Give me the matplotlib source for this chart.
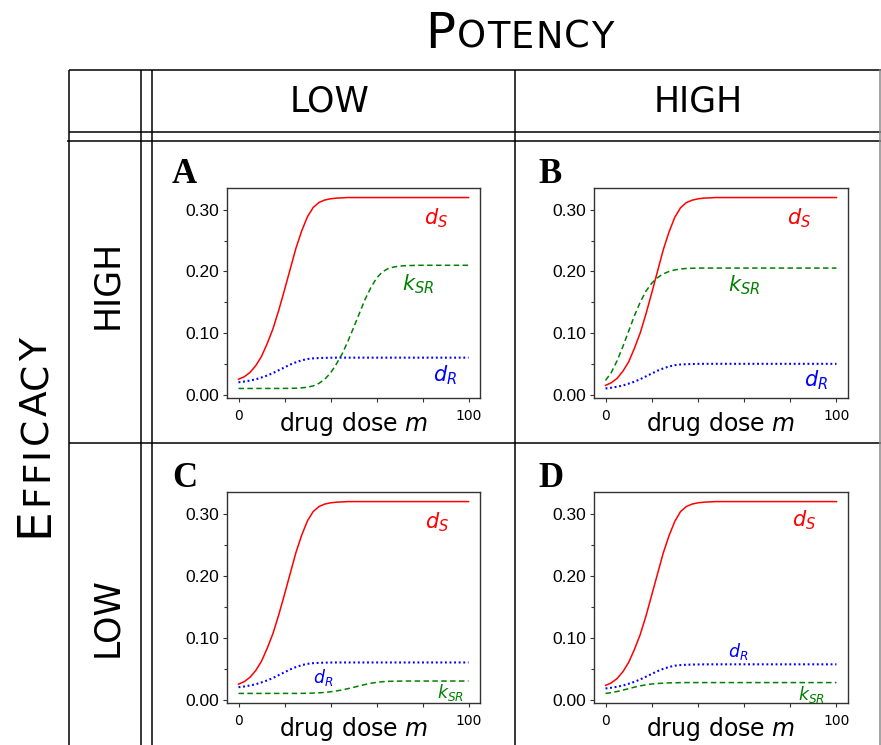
import numpy as np
import matplotlib
matplotlib.use("Agg")
import matplotlib.pyplot as plt
from matplotlib.ticker import FixedLocator

# ---------------------------------------------------------------- data
# drug dose grid (0..100 in steps of 2.5)
dose = np.linspace(0, 100, 41)

# death rate of susceptible cells d_S
dS_A = [0.025, 0.029, 0.036, 0.047, 0.062, 0.083, 0.107, 0.137, 0.170, 0.204,
        0.238, 0.266, 0.289, 0.304, 0.312, 0.316, 0.318, 0.319, 0.3195, 0.320,
        0.320, 0.320, 0.320, 0.320, 0.320, 0.320, 0.320, 0.320, 0.320, 0.320,
        0.320, 0.320, 0.320, 0.320, 0.320, 0.320, 0.320, 0.320, 0.320, 0.320, 0.320]
dS_B = [0.015, 0.0193, 0.0263, 0.0379, 0.0531, 0.0751, 0.100, 0.1309, 0.165, 0.2001,
        0.2352, 0.2642, 0.288, 0.3035, 0.3118, 0.3157, 0.3179, 0.3191, 0.3194, 0.320,
        0.320, 0.320, 0.320, 0.320, 0.320, 0.320, 0.320, 0.320, 0.320, 0.320,
        0.320, 0.320, 0.320, 0.320, 0.320, 0.320, 0.320, 0.320, 0.320, 0.320, 0.320]
dS_C = [0.025, 0.029, 0.036, 0.047, 0.062, 0.083, 0.107, 0.137, 0.170, 0.204,
        0.238, 0.266, 0.289, 0.304, 0.312, 0.316, 0.318, 0.319, 0.3195, 0.320,
        0.320, 0.320, 0.320, 0.320, 0.320, 0.320, 0.320, 0.320, 0.320, 0.320,
        0.320, 0.320, 0.320, 0.320, 0.320, 0.320, 0.320, 0.320, 0.320, 0.320, 0.320]
dS_D = [0.023, 0.027, 0.034, 0.045, 0.060, 0.081, 0.105, 0.135, 0.169, 0.203,
        0.237, 0.265, 0.288, 0.304, 0.312, 0.316, 0.318, 0.319, 0.3195, 0.320,
        0.320, 0.320, 0.320, 0.320, 0.320, 0.320, 0.320, 0.320, 0.320, 0.320,
        0.320, 0.320, 0.320, 0.320, 0.320, 0.320, 0.320, 0.320, 0.320, 0.320, 0.320]

# switching rate S -> R, k_SR
kSR_A = [0.010, 0.010, 0.010, 0.010, 0.010, 0.010, 0.010, 0.010, 0.0101, 0.0102,
         0.0104, 0.0110, 0.0120, 0.0142, 0.0183, 0.025, 0.035, 0.0494, 0.0656, 0.086,
         0.1084, 0.1314, 0.1544, 0.1734, 0.189, 0.1992, 0.2046, 0.2072, 0.2086, 0.2094,
         0.2096, 0.210, 0.210, 0.210, 0.210, 0.210, 0.210, 0.210, 0.210, 0.210, 0.210]
kSR_B = [0.023, 0.036, 0.055, 0.078, 0.103, 0.128, 0.150, 0.168, 0.181, 0.190,
         0.196, 0.200, 0.2025, 0.204, 0.2048, 0.2052, 0.2054, 0.2055, 0.2055, 0.2055,
         0.2055, 0.2055, 0.2055, 0.2055, 0.2055, 0.2055, 0.2055, 0.2055, 0.2055, 0.2055,
         0.2055, 0.2055, 0.2055, 0.2055, 0.2055, 0.2055, 0.2055, 0.2055, 0.2055, 0.2055, 0.2055]
kSR_C = [0.010, 0.010, 0.010, 0.010, 0.010, 0.010, 0.010, 0.010, 0.010, 0.010,
         0.010, 0.0101, 0.0102, 0.0105, 0.0109, 0.0116, 0.0126, 0.0139, 0.0156, 0.0176,
         0.0198, 0.0221, 0.0244, 0.0263, 0.0279, 0.0289, 0.0295, 0.0297, 0.0299, 0.030,
         0.030, 0.030, 0.030, 0.030, 0.030, 0.030, 0.030, 0.030, 0.030, 0.030, 0.030]
kSR_D = [0.010, 0.0112, 0.0131, 0.0153, 0.0177, 0.0201, 0.0222, 0.0239, 0.0252, 0.0260,
         0.0266, 0.0270, 0.0272, 0.0274, 0.0275, 0.0275, 0.0275, 0.0275, 0.0275, 0.0275,
         0.0275, 0.0275, 0.0275, 0.0275, 0.0275, 0.0275, 0.0275, 0.0275, 0.0275, 0.0275,
         0.0275, 0.0275, 0.0275, 0.0275, 0.0275, 0.0275, 0.0275, 0.0275, 0.0275, 0.0275, 0.0275]

# death rate of resistant cells d_R
dR_A = [0.020, 0.0212, 0.0228, 0.0248, 0.0278, 0.031, 0.035, 0.0396, 0.0442, 0.0488,
        0.0526, 0.0557, 0.0578, 0.0589, 0.0594, 0.0597, 0.0599, 0.060, 0.060, 0.060,
        0.060, 0.060, 0.060, 0.060, 0.060, 0.060, 0.060, 0.060, 0.060, 0.060,
        0.060, 0.060, 0.060, 0.060, 0.060, 0.060, 0.060, 0.060, 0.060, 0.060, 0.060]
dR_B = [0.010, 0.0112, 0.0128, 0.0148, 0.0178, 0.021, 0.025, 0.0296, 0.0342, 0.0388,
        0.0426, 0.0457, 0.0478, 0.0489, 0.0494, 0.0497, 0.0499, 0.050, 0.050, 0.050,
        0.050, 0.050, 0.050, 0.050, 0.050, 0.050, 0.050, 0.050, 0.050, 0.050,
        0.050, 0.050, 0.050, 0.050, 0.050, 0.050, 0.050, 0.050, 0.050, 0.050, 0.050]
dR_C = [0.020, 0.0212, 0.0228, 0.0248, 0.0278, 0.031, 0.035, 0.0396, 0.0442, 0.0488,
        0.0526, 0.0557, 0.0578, 0.0589, 0.0594, 0.0597, 0.0599, 0.060, 0.060, 0.060,
        0.060, 0.060, 0.060, 0.060, 0.060, 0.060, 0.060, 0.060, 0.060, 0.060,
        0.060, 0.060, 0.060, 0.060, 0.060, 0.060, 0.060, 0.060, 0.060, 0.060, 0.060]
dR_D = [0.018, 0.0192, 0.0207, 0.0227, 0.0256, 0.0287, 0.0326, 0.037, 0.0415, 0.046,
        0.0497, 0.0527, 0.0548, 0.0558, 0.0563, 0.0566, 0.0568, 0.0569, 0.057, 0.057,
        0.057, 0.057, 0.057, 0.057, 0.057, 0.057, 0.057, 0.057, 0.057, 0.057,
        0.057, 0.057, 0.057, 0.057, 0.057, 0.057, 0.057, 0.057, 0.057, 0.057, 0.057]

x_ticks = [0, 20, 40, 60, 80, 100]
x_ticklabels = ["0", "", "", "", "", "100"]
y_ticks = [0.0, 0.1, 0.2, 0.3]
y_ticklabels = ["0.00", "0.10", "0.20", "0.30"]
y_minor = [0.05, 0.15, 0.25]

col_labels = ["LOW", "HIGH"]
row_labels = ["HIGH", "LOW"]

# ---------------------------------------------------------------- layout
W, H = 881, 745
fig = plt.figure(figsize=(W / 100, H / 100), dpi=100)
fig.patch.set_facecolor("white")

SANS = "DejaVu Sans"


def fx(x):
    return x / W


def fy(y):
    return 1 - y / H


def rect(l, t, r, b):
    return [l / W, 1 - b / H, (r - l) / W, (b - t) / H]


# table grid drawn on a full-figure canvas in pixel units
grid = fig.add_axes([0, 0, 1, 1], zorder=-1)
grid.set_xlim(0, W)
grid.set_ylim(H, 0)
grid.axis("off")
lk = dict(color="black", lw=1.1, solid_capstyle="butt")
grid.plot([69, 881], [70, 70], **lk)
grid.plot([69, 881], [132, 132], **lk)
grid.plot([67, 881], [141, 141], **lk)
grid.plot([69, 881], [443, 443], **lk)
for xv in (69, 141, 152, 515):
    grid.plot([xv, xv], [70, 745], **lk)
grid.plot([880, 880], [70, 745], color="#8a8a8a", lw=1.1)

renderer = fig.canvas.get_renderer()


def ink_width(s, size):
    t = fig.text(0, 0, s, fontsize=size, family=SANS, transform=None)
    w = t.get_window_extent(renderer).width
    t.remove()
    return w


def spaced_caps(first, rest, big, small, start, end, base, rotation=0):
    """Letter-spaced word with a large initial and smaller capitals,
    stretched to run from pixel `start` to pixel `end`."""
    w_first = ink_width(first, big)
    w_rest = ink_width(rest, small)
    lefts = [ink_width(rest[:i + 1], small) - ink_width(rest[i], small)
             for i in range(len(rest))]
    length = abs(end - start)
    track = (length - w_first - w_rest) / len(rest)
    kw = dict(family=SANS, rotation=rotation, rotation_mode="anchor",
              ha="left", va="baseline", transform=None)
    if rotation == 0:
        s0 = start
        fig.text(s0, H - base, first, fontsize=big, **kw)
        for i, ch in enumerate(rest):
            pos = s0 + w_first + track + lefts[i] + i * track
            fig.text(pos, H - base, ch, fontsize=small, **kw)
    else:
        s0 = H - start
        fig.text(base, s0, first, fontsize=big, **kw)
        for i, ch in enumerate(rest):
            pos = s0 + w_first + track + lefts[i] + i * track
            fig.text(base, pos, ch, fontsize=small, **kw)


spaced_caps("P", "OTENCY", 36, 26.5, start=425, end=613, base=48)
spaced_caps("E", "FFICACY", 34, 27, start=537, end=338, base=47, rotation=90)

for lab, xc in zip(col_labels, (330, 698)):
    fig.text(fx(xc), fy(101), lab, fontsize=25, family=SANS,
             ha="center", va="center")
for lab, yc in zip(row_labels, (284, 617)):
    fig.text(fx(107), fy(yc), lab, fontsize=25, family=SANS,
             rotation=90, ha="center", va="center")

# ---------------------------------------------------------------- panels
RED, GREEN, BLUE = "#ff0000", "#008000", "#0000ff"

panels = [
    dict(tag="A", rect=rect(227, 188, 480, 398), letter=(172, 183),
         dS=dS_A, kSR=kSR_A, dR=dR_A,
         txt=[(86, 0.287, 15, "dS"), (78, 0.180, 15, "kSR"), (90, 0.032, 15, "dR")]),
    dict(tag="B", rect=rect(594, 188, 848, 398), letter=(538, 183),
         dS=dS_B, kSR=kSR_B, dR=dR_B,
         txt=[(84, 0.286, 15, "dS"), (60, 0.177, 15, "kSR"), (91, 0.023, 15, "dR")]),
    dict(tag="C", rect=rect(227, 492, 480, 703), letter=(172, 487),
         dS=dS_C, kSR=kSR_C, dR=dR_C,
         txt=[(86.5, 0.286, 15, "dS"), (36.7, 0.036, 12.5, "dR"), (92, 0.011, 12.5, "kSR")]),
    dict(tag="D", rect=rect(594, 492, 848, 703), letter=(538, 487),
         dS=dS_D, kSR=kSR_D, dR=dR_D,
         txt=[(86, 0.290, 15, "dS"), (57.5, 0.077, 12.5, "dR"), (89.4, 0.008, 12.5, "kSR")]),
]

names = {"dS": (r"$d_S$", RED), "kSR": (r"$k_{SR}$", GREEN), "dR": (r"$d_R$", BLUE)}

for p in panels:
    ax = fig.add_axes(p["rect"])
    ax.plot(dose, p["dS"], color=RED, lw=1.1)
    ax.plot(dose, p["kSR"], color=GREEN, lw=1.1, ls=(0, (3.6, 2.2)))
    ax.plot(dose, p["dR"], color=BLUE, lw=1.5, ls=(0, (0.9, 1.3)))

    ax.set_xticks(x_ticks)
    ax.set_xticklabels(x_ticklabels, fontsize=10, family=SANS)
    ax.set_yticks(y_ticks)
    ax.set_yticklabels(y_ticklabels, fontsize=12.5, family="Liberation Sans")
    ax.yaxis.set_minor_locator(FixedLocator(y_minor))
    ax.tick_params(axis="both", which="both", direction="out", color="#333333",
                   width=0.8)
    ax.tick_params(axis="both", which="major", length=3.2)
    ax.tick_params(axis="y", which="minor", length=2.5)
    ax.tick_params(axis="x", pad=4.5)
    ax.tick_params(axis="y", pad=2.5)
    for s in ax.spines.values():
        s.set_color("#333333")
        s.set_linewidth(1.0)

    ax.set_xlabel("drug dose $m$", fontsize=17, family=SANS, labelpad=-9)

    for xv, yv, fs, key in p["txt"]:
        label, col = names[key]
        ax.text(xv, yv, label, color=col, fontsize=fs, ha="center", va="center")

    lx, ly = p["letter"]
    fig.text(fx(lx), fy(ly), p["tag"], fontsize=25, fontweight="bold",
             family="Liberation Serif", ha="left", va="baseline")

fig.savefig("out.png", dpi=100, facecolor="white")
